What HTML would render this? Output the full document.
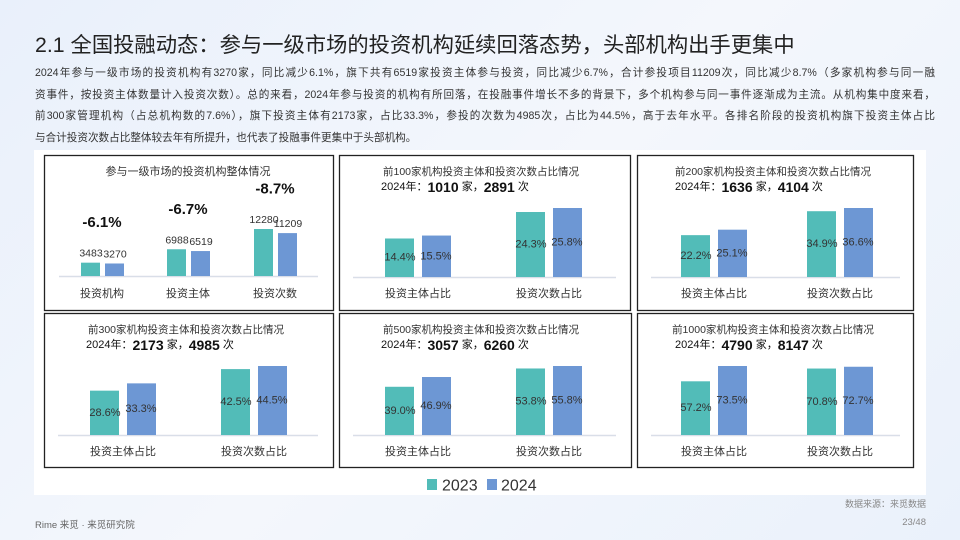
<!DOCTYPE html>
<html><head><meta charset="utf-8">
<style>
html,body{margin:0;padding:0}
body{width:960px;height:540px;overflow:hidden;position:relative;background:linear-gradient(135deg,#e9f0fb 0%,#f4f7fc 50%,#eaf1fb 100%);font-family:"Liberation Sans","Noto Sans CJK SC",sans-serif;color:#333}
#title{position:absolute;left:35px;top:28px;font-size:21.3px;color:#222;white-space:nowrap}
#para{position:absolute;left:35px;top:63px;width:900px;font-size:10.6px;line-height:21.7px;color:#333}
#para div{white-space:nowrap;text-align:justify;text-align-last:justify;width:900px;overflow:hidden}
#para div.last{text-align-last:left}
#panel{position:absolute;left:34px;top:150px;width:892px;height:345px;background:#fff}
svg{position:absolute;left:0;top:0}
.foot{position:absolute;font-size:9px;color:#888}
</style></head>
<body>
<div id="title">2.1 全国投融动态：参与一级市场的投资机构延续回落态势，头部机构出手更集中</div>
<div id="para">
<div>2024年参与一级市场的投资机构有3270家，同比减少6.1%，旗下共有6519家投资主体参与投资，同比减少6.7%，合计参投项目11209次，同比减少8.7%（多家机构参与同一融</div>
<div>资事件，按投资主体数量计入投资次数）。总的来看，2024年参与投资的机构有所回落，在投融事件增长不多的背景下，多个机构参与同一事件逐渐成为主流。从机构集中度来看，</div>
<div>前300家管理机构（占总机构数的7.6%），旗下投资主体有2173家，占比33.3%，参投的次数为4985次，占比为44.5%，高于去年水平。各排名阶段的投资机构旗下投资主体占比</div>
<div class="last">与合计投资次数占比整体较去年有所提升，也代表了投融事件更集中于头部机构。</div>
</div>
<div id="panel"></div>
<svg id="chart" width="960" height="540"></svg>
<div class="foot" style="right:34px;top:497px">数据来源：来觅数据</div>
<div class="foot" style="left:35px;top:517px;font-size:9.5px;color:#666">Rime 来觅 · 来觅研究院</div>
<div class="foot" style="right:34px;top:517px;font-size:9.5px">23/48</div>
<script>
const C23='#52BCB8', C24='#6D97D4';
// Panel 1 data
const p1Categories=['投资机构','投资主体','投资次数'];
const p1Values2023=[3483,6988,12280];
const p1Values2024=[3270,6519,11209];
const p1Changes=['-6.1%','-6.7%','-8.7%'];
// Share panels
const shareCategories=['投资主体占比','投资次数占比'];
const shareTitles=['前100家机构投资主体和投资次数占比情况','前200家机构投资主体和投资次数占比情况','前300家机构投资主体和投资次数占比情况','前500家机构投资主体和投资次数占比情况','前1000家机构投资主体和投资次数占比情况'];
const share2023Subject=[14.4,22.2,28.6,39.0,57.2];
const share2024Subject=[15.5,25.1,33.3,46.9,73.5];
const share2023Count=[24.3,34.9,42.5,53.8,70.8];
const share2024Count=[25.8,36.6,44.5,55.8,72.7];
const orgs2024=[1010,1636,2173,3057,4790];
const counts2024=[2891,4104,4985,6260,8147];

const svg=document.getElementById('chart');
const NS='http://www.w3.org/2000/svg';
function mk(tag,attrs,parent){const e=document.createElementNS(NS,tag);for(const k in attrs)e.setAttribute(k,attrs[k]);(parent||svg).appendChild(e);return e;}
function txt(x,y,s,size,opts,parent){const t=mk('text',Object.assign({x:x,y:y,'font-size':size,'text-anchor':'middle','dominant-baseline':'central',fill:'#333','font-family':'"Liberation Sans","Noto Sans CJK SC",sans-serif'},opts||{}),parent);t.textContent=s;return t;}

const boxes=[[44,155,289,155],[339,155,291,155],[637,155,276,155],[44,313,289,154],[339,313,292,154],[637,313,276,154]];
boxes.forEach((b,i)=>{
  const r=mk('rect',{x:b[0]+0.5,y:b[1]+0.5,width:b[2],height:b[3],fill:'none',stroke:'#222','stroke-width':1.3});
  
  
});

// Panel 1
(function(){
  const g=mk('g',{});
  
  
  const base=276, hMax=47;
  const y=v=>base-v/12280*hMax;
  const centers=[102,188,275];
  txt(188,172,'参与一级市场的投资机构整体情况',11,{},g);
  mk('line',{x1:59,y1:base+0.5,x2:318,y2:base+0.5,stroke:'#d9dee8','stroke-width':1.5},g);
  p1Categories.forEach((c,i)=>{
    const cx=centers[i];
    const t1=y(p1Values2023[i]), t2=y(p1Values2024[i]);
    const b1=mk('rect',{x:cx-21,y:t1,width:19,height:base-t1,fill:C23},g);
    
    
    const b2=mk('rect',{x:cx+3,y:t2,width:19,height:base-t2,fill:C24},g);
    
    
    txt(cx-11,t1-9,String(p1Values2023[i]),10.5,{},g);
    txt(cx+13,t2-9,String(p1Values2024[i]),10.5,{},g);
    const ch=txt(cx,Math.min(t1,t2)-40,p1Changes[i],15,{'font-weight':'bold',fill:'#111'},g);
    
    
    const cl=txt(cx,294,c,11,{},g);
    
    
  });
})();

// share panels
const sharePanels=[[339,155,79,210,616],[637,155,77,203,900],[44,313,79,210,318],[339,313,79,210,616],[637,313,77,203,900]];
shareTitles.forEach((title,i)=>{
  const [px,py,c1,c2,axEnd]=sharePanels[i];
  const g=mk('g',{});
  
  
  const base=py+122;
  const vals=[[share2023Subject[i],share2024Subject[i]],[share2023Count[i],share2024Count[i]]];
  const maxV=Math.max(...vals.flat());
  const y=v=>base-v/maxV*69;
  txt(px+(i===1||i===4?136:142),py+17,title,10.5,{},g);
  const sub=mk('text',{x:px+(i===1||i===4?38:42),y:py+32,'font-size':11,'dominant-baseline':'central',fill:'#111','font-family':'"Liberation Sans","Noto Sans CJK SC",sans-serif'},g);
  sub.innerHTML='2024年：<tspan font-size="14" font-weight="bold">'+orgs2024[i]+'</tspan> 家，<tspan font-size="14" font-weight="bold">'+counts2024[i]+'</tspan> 次';
  mk('line',{x1:px+14,y1:base+0.5,x2:axEnd,y2:base+0.5,stroke:'#d9dee8','stroke-width':1.5},g);
  [c1,c2].forEach((cc,k)=>{
    const cx=px+cc;
    const t1=y(vals[k][0]), t2=y(vals[k][1]);
    const b1=mk('rect',{x:cx-33,y:t1,width:29,height:base-t1,fill:C23},g);
    
    
    const b2=mk('rect',{x:cx+4,y:t2,width:29,height:base-t2,fill:C24},g);
    
    
    txt(cx-18,(t1+base)/2,vals[k][0].toFixed(1)+'%',11,{},g);
    txt(cx+18,(t2+base)/2,vals[k][1].toFixed(1)+'%',11,{},g);
    const cl=txt(cx,base+17,shareCategories[k],11,{},g);
    
    
  });
});

// legend
const lg=mk('g',{});


const l1=mk('g',{},lg);


mk('rect',{x:427,y:479,width:10,height:11,fill:C23},l1);
mk('text',{x:442,y:486,'font-size':16,'dominant-baseline':'central',fill:'#333','font-family':'"Liberation Sans",sans-serif'},l1).textContent='2023';
const l2=mk('g',{},lg);


mk('rect',{x:487,y:479,width:10,height:11,fill:C24},l2);
mk('text',{x:501,y:486,'font-size':16,'dominant-baseline':'central',fill:'#333','font-family':'"Liberation Sans",sans-serif'},l2).textContent='2024';
</script>
</body></html>
